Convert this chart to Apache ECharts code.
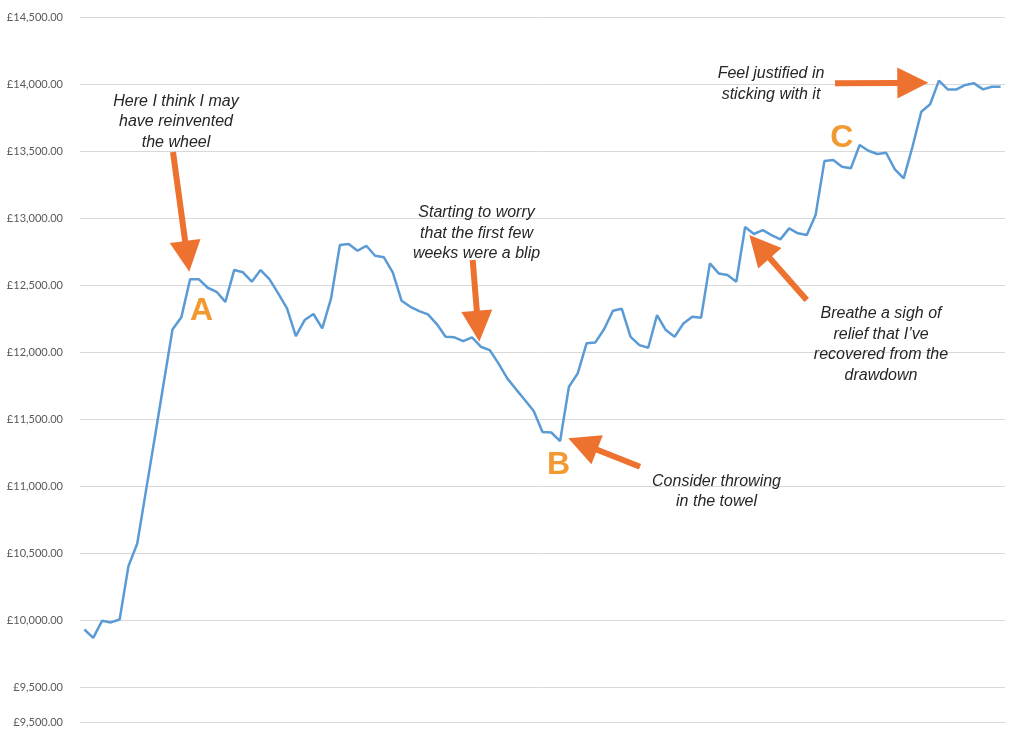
<!DOCTYPE html>
<html><head><meta charset="utf-8">
<script src="https://cdn.jsdelivr.net/npm/echarts@6/dist/echarts.min.js"></script>
<style>html,body{margin:0;padding:0;background:#fff}#c{width:1024px;height:733px}</style>
</head><body><div id="c"></div>
<script>
// Weekly account balance (£)
const balance = [
  9930, 9868, 9995, 9983, 10005, 10403, 10572, 10970, 11366, 11769,
  12169, 12259, 12543, 12543, 12480, 12450, 12375, 12612, 12595, 12525,
  12612, 12545, 12438, 12326, 12119, 12239, 12284, 12177, 12401, 12799,
  12806, 12756, 12793, 12719, 12707, 12595, 12383, 12338, 12306, 12281,
  12209, 12114, 12110, 12082, 12110, 12040, 12015, 11916, 11804, 11722,
  11642, 11560, 11403, 11400, 11336, 11741, 11841, 12065, 12072, 12172,
  12308, 12323, 12114, 12052, 12032, 12276, 12164, 12114, 12214, 12263,
  12256, 12662, 12587, 12575, 12525, 12933, 12881, 12910, 12873, 12841,
  12923, 12886, 12873, 13022, 13425, 13433, 13383, 13371, 13545, 13502,
  13478, 13487, 13363, 13296, 13532, 13793, 13849, 14025, 13960, 13960,
  13993, 14005, 13960, 13980, 13980
];
const weeks = balance.map((_, i) => 'Week ' + (i + 1));
const yTickValues = [9240, 9500, 10000, 10500, 11000, 11500, 12000, 12500, 13000, 13500, 14000, 14500];
const yTickLabels = ['£9,500.00', '£9,500.00', '£10,000.00', '£10,500.00', '£11,000.00', '£11,500.00',
  '£12,000.00', '£12,500.00', '£13,000.00', '£13,500.00', '£14,000.00', '£14,500.00'];
const notes = [
  'Here I think I may\nhave reinvented\nthe wheel',
  'Starting to worry\nthat the first few\nweeks were a blip',
  'Consider throwing\nin the towel',
  'Breathe a sigh of\nrelief that I\u2019ve\nrecovered from the\ndrawdown',
  'Feel justified in\nsticking with it'
];
const letters = ['A', 'B', 'C'];

const ORANGE = '#ED7230';
const LETTER = '#F29A31';

function arrowPoints(x1, y1, x2, y2, sw, hl, hw) {
  const dx = x2 - x1, dy = y2 - y1, L = Math.hypot(dx, dy);
  const ux = dx / L, uy = dy / L, px = -uy, py = ux;
  const bx = x2 - ux * hl, by = y2 - uy * hl;
  return [
    [x1 + px * sw / 2, y1 + py * sw / 2],
    [bx + px * sw / 2, by + py * sw / 2],
    [bx + px * hw / 2, by + py * hw / 2],
    [x2, y2],
    [bx - px * hw / 2, by - py * hw / 2],
    [bx - px * sw / 2, by - py * sw / 2],
    [x1 - px * sw / 2, y1 - py * sw / 2]
  ];
}
function arrow(x1, y1, x2, y2) {
  return { type: 'polygon', silent: true, z: 10,
    shape: { points: arrowPoints(x1, y1, x2, y2, 6, 31, 31) },
    style: { fill: ORANGE } };
}
function note(text, x, y) {
  return { type: 'text', silent: true, z: 10, x: x, y: y,
    style: { text: text, align: 'center', verticalAlign: 'middle',
      font: 'italic 16px "Liberation Sans", Arial, sans-serif', fill: '#262626', lineHeight: 20.5 } };
}
function letter(t, x, y) {
  return { type: 'text', silent: true, z: 10, x: x, y: y,
    style: { text: t, align: 'center', verticalAlign: 'middle',
      font: 'bold 32px "Liberation Sans", Arial, sans-serif', fill: LETTER } };
}

const chart = echarts.init(document.getElementById('c'), null, { renderer: 'canvas' });
chart.setOption({
  animation: false,
  backgroundColor: '#ffffff',
  grid: { left: 80, right: 19, top: 17, bottom: 11, containLabel: false },
  xAxis: {
    type: 'category', data: weeks, boundaryGap: true,
    axisLine: { show: true, lineStyle: { color: '#d9d9d9', width: 1 } },
    axisTick: { show: false }, axisLabel: { show: false }, splitLine: { show: false }
  },
  yAxis: {
    type: 'value', min: 9240, max: 14500,
    axisLine: { show: false },
    axisTick: { show: false, customValues: yTickValues },
    axisLabel: {
      customValues: yTickValues, margin: 17, color: '#595959',
      fontFamily: 'Lato, "Open Sans", sans-serif', fontSize: 11,
      formatter: function (v) { const i = yTickValues.indexOf(v); return i >= 0 ? yTickLabels[i] : ''; }
    },
    splitLine: { show: true, lineStyle: { color: '#d9d9d9', width: 1 } }
  },
  series: [{
    type: 'line', data: balance, symbol: 'none', smooth: false,
    lineStyle: { color: '#5B9BD5', width: 2.5 }, itemStyle: { color: '#5B9BD5' }
  }],
  graphic: [
    note(notes[0], 176, 122),
    arrow(173, 152, 189.3, 271.7),
    letter(letters[0], 201.5, 311),
    note(notes[1], 476.5, 233.5),
    arrow(472.7, 260, 479.3, 341.7),
    letter(letters[1], 558.5, 465),
    arrow(640, 466.7, 568.3, 438.3),
    note(notes[2], 716.5, 491.7),
    arrow(806.7, 300, 749.3, 235),
    note(notes[3], 881, 344.5),
    letter(letters[2], 841.7, 138.5),
    note(notes[4], 771, 84),
    arrow(835, 83.3, 928.3, 82.7)
  ]
});
</script>
</body></html>
